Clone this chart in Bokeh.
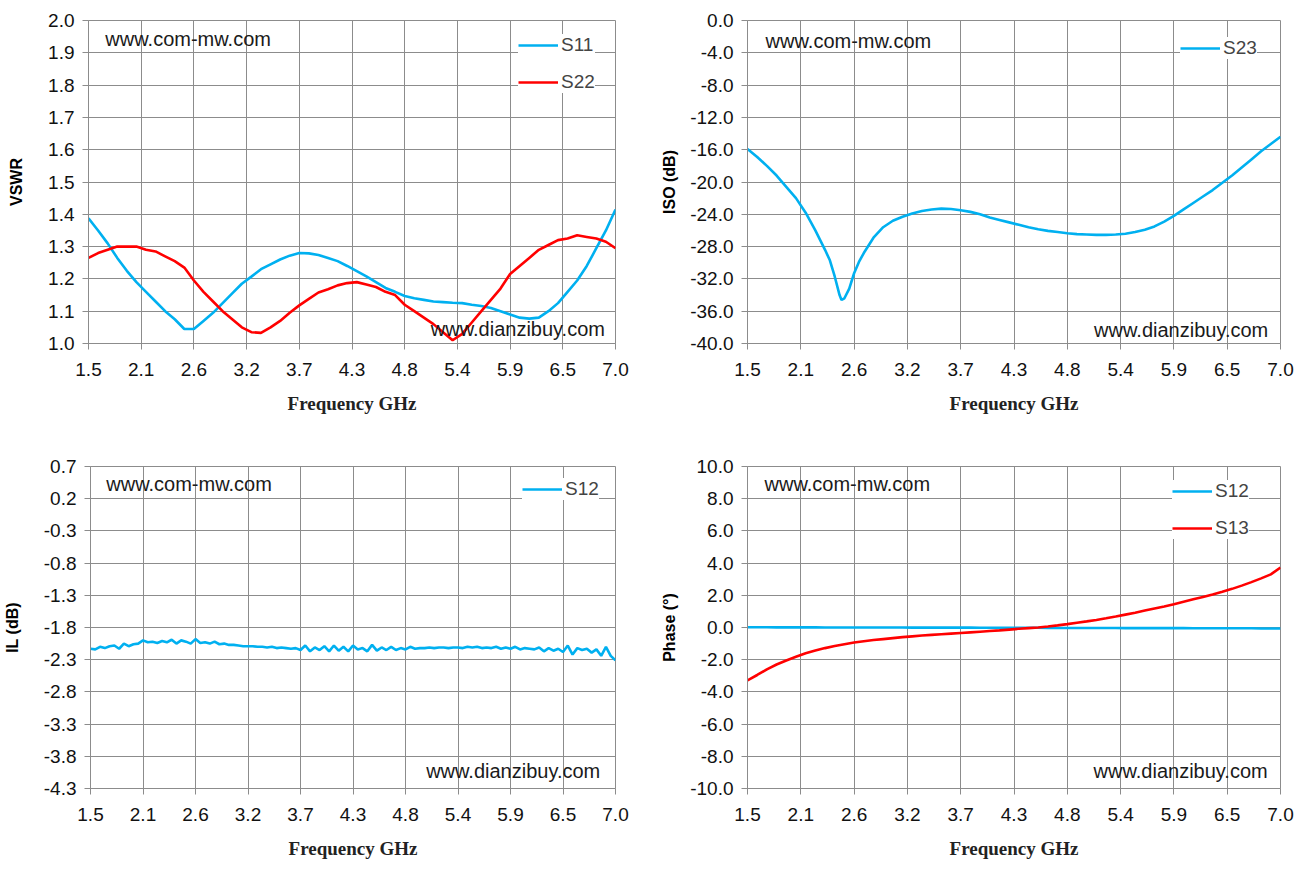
from bokeh.plotting import figure
from bokeh.layouts import row, column
from bokeh.models import Range1d, FixedTicker, NumeralTickFormatter, Legend, LegendItem, Label
from bokeh.embed import file_html
from bokeh.resources import INLINE

# ---------------- data ----------------
freq = [1.5, 1.6, 1.7, 1.8, 1.9, 2.0, 2.1, 2.2, 2.3, 2.4, 2.5, 2.6, 2.7, 2.8, 2.9,
        3.0, 3.1, 3.2, 3.3, 3.4, 3.5, 3.6, 3.7, 3.8, 3.9, 4.0, 4.1, 4.2, 4.3, 4.4,
        4.5, 4.6, 4.7, 4.8, 4.9, 5.0, 5.1, 5.2, 5.3, 5.4, 5.5, 5.6, 5.7, 5.8, 5.9,
        6.0, 6.1, 6.2, 6.3, 6.4, 6.5, 6.6, 6.7, 6.8, 6.9, 7.0]

vswr_s11 = [1.388, 1.35, 1.31, 1.265, 1.225, 1.19, 1.16, 1.13, 1.10, 1.075, 1.045, 1.045,
            1.07, 1.095, 1.125, 1.155, 1.185, 1.207, 1.23, 1.245, 1.26, 1.272, 1.28, 1.279,
            1.274, 1.265, 1.255, 1.24, 1.224, 1.208, 1.19, 1.172, 1.16, 1.147, 1.14, 1.135,
            1.13, 1.128, 1.126, 1.125, 1.12, 1.116, 1.11, 1.10, 1.09, 1.08, 1.077, 1.08,
            1.10, 1.125, 1.16, 1.195, 1.24, 1.295, 1.35, 1.415]
vswr_s22 = [1.265, 1.28, 1.29, 1.30, 1.30, 1.30, 1.29, 1.285, 1.27, 1.255, 1.235, 1.195,
            1.16, 1.13, 1.10, 1.075, 1.05, 1.035, 1.033, 1.05, 1.07, 1.095, 1.118, 1.138,
            1.158, 1.168, 1.18, 1.187, 1.19, 1.183, 1.175, 1.16, 1.15, 1.12, 1.10, 1.08,
            1.06, 1.035, 1.01, 1.03, 1.065, 1.10, 1.135, 1.17, 1.215, 1.24, 1.265, 1.29,
            1.305, 1.32, 1.325, 1.335, 1.33, 1.325, 1.315, 1.295]

iso_freq = [1.5, 1.6, 1.7, 1.8, 1.9, 2.0, 2.1, 2.2, 2.3, 2.35, 2.4, 2.45, 2.47, 2.5, 2.55,
            2.6, 2.65, 2.7, 2.8, 2.9, 3.0, 3.1, 3.2, 3.3, 3.4, 3.5, 3.6, 3.7, 3.8, 3.9,
            4.0, 4.1, 4.2, 4.3, 4.4, 4.5, 4.6, 4.7, 4.8, 4.9, 5.0, 5.1, 5.2, 5.3, 5.4,
            5.5, 5.6, 5.7, 5.8, 5.9, 6.0, 6.1, 6.2, 6.3, 6.4, 6.5, 6.6, 6.7, 6.8, 6.9, 7.0]
iso_s23 = [-15.9, -16.9, -18.0, -19.2, -20.6, -22.0, -23.8, -26.0, -28.4, -29.7, -31.7,
           -34.0, -34.6, -34.4, -33.2, -31.3, -29.9, -28.8, -26.9, -25.6, -24.8, -24.3,
           -23.9, -23.6, -23.4, -23.3, -23.35, -23.5, -23.7, -24.0, -24.4, -24.7, -25.0,
           -25.3, -25.6, -25.85, -26.05, -26.2, -26.35, -26.45, -26.5, -26.55, -26.55,
           -26.5, -26.4, -26.2, -25.9, -25.5, -24.9, -24.2, -23.4, -22.6, -21.8, -21.0,
           -20.1, -19.2, -18.2, -17.2, -16.2, -15.3, -14.4]

freq_fine = [1.50, 1.55, 1.60, 1.65, 1.70, 1.75, 1.80, 1.85, 1.90, 1.95, 2.00, 2.05,
             2.10, 2.15, 2.20, 2.25, 2.30, 2.35, 2.40, 2.45, 2.50, 2.55, 2.60, 2.65,
             2.70, 2.75, 2.80, 2.85, 2.90, 2.95, 3.00, 3.05, 3.10, 3.15, 3.20, 3.25,
             3.30, 3.35, 3.40, 3.45, 3.50, 3.55, 3.60, 3.65, 3.70, 3.75, 3.80, 3.85,
             3.90, 3.95, 4.00, 4.05, 4.10, 4.15, 4.20, 4.25, 4.30, 4.35, 4.40, 4.45,
             4.50, 4.55, 4.60, 4.65, 4.70, 4.75, 4.80, 4.85, 4.90, 4.95, 5.00, 5.05,
             5.10, 5.15, 5.20, 5.25, 5.30, 5.35, 5.40, 5.45, 5.50, 5.55, 5.60, 5.65,
             5.70, 5.75, 5.80, 5.85, 5.90, 5.95, 6.00, 6.05, 6.10, 6.15, 6.20, 6.25,
             6.30, 6.35, 6.40, 6.45, 6.50, 6.55, 6.60, 6.65, 6.70, 6.75, 6.80, 6.85,
             6.90, 6.95, 7.00]
il_s12 = [-2.13, -2.14, -2.10, -2.12, -2.09, -2.08, -2.13, -2.05, -2.09, -2.06, -2.05, -2.00,
          -2.03, -2.02, -2.04, -2.01, -2.03, -1.99, -2.05, -2.00, -2.02, -2.05, -1.98, -2.04,
          -2.03, -2.05, -2.02, -2.06, -2.05, -2.07, -2.07, -2.08, -2.09, -2.09, -2.09, -2.10,
          -2.10, -2.11, -2.10, -2.12, -2.11, -2.12, -2.13, -2.12, -2.15, -2.08, -2.17, -2.11,
          -2.15, -2.09, -2.17, -2.08, -2.16, -2.10, -2.17, -2.08, -2.14, -2.12, -2.17, -2.07,
          -2.16, -2.11, -2.15, -2.10, -2.15, -2.12, -2.14, -2.10, -2.13, -2.12, -2.12, -2.11,
          -2.12, -2.11, -2.11, -2.12, -2.11, -2.11, -2.12, -2.10, -2.11, -2.10, -2.12, -2.11,
          -2.12, -2.10, -2.13, -2.11, -2.13, -2.10, -2.14, -2.12, -2.13, -2.14, -2.11, -2.17,
          -2.12, -2.16, -2.13, -2.18, -2.08, -2.22, -2.12, -2.15, -2.13, -2.19, -2.14, -2.24,
          -2.10, -2.24, -2.31]

phase_s12 = [0.02, 0.02, 0.02, 0.01, 0.01, 0.01, 0.01, 0.01, 0.0, 0.0, 0.0, 0.0, 0.0, 0.0,
             0.0, 0.0, 0.0, -0.01, -0.01, -0.01, -0.01, -0.01, -0.01, -0.01, -0.02, -0.02,
             -0.02, -0.02, -0.02, -0.02, -0.02, -0.03, -0.03, -0.03, -0.03, -0.03, -0.03,
             -0.03, -0.03, -0.04, -0.04, -0.04, -0.04, -0.04, -0.04, -0.04, -0.05, -0.05,
             -0.05, -0.05, -0.05, -0.05, -0.05, -0.06, -0.06, -0.06]
phase_s13 = [-3.29, -2.95, -2.6, -2.3, -2.05, -1.82, -1.6, -1.43, -1.28, -1.15, -1.04, -0.93,
             -0.85, -0.78, -0.72, -0.66, -0.6, -0.55, -0.5, -0.46, -0.42, -0.38, -0.34, -0.3,
             -0.26, -0.22, -0.18, -0.13, -0.08, -0.04, 0.0, 0.06, 0.13, 0.21, 0.3, 0.38, 0.47,
             0.57, 0.68, 0.8, 0.92, 1.05, 1.18, 1.31, 1.45, 1.6, 1.75, 1.9, 2.05, 2.22, 2.4,
             2.6, 2.82, 3.05, 3.3, 3.72]

x_ticks = [1.5, 2.05, 2.6, 3.15, 3.7, 4.25, 4.8, 5.35, 5.9, 6.45, 7.0]
x_tick_labels = ["1.5", "2.1", "2.6", "3.2", "3.7", "4.3", "4.8", "5.4", "5.9", "6.5", "7.0"]
vswr_ticks = [1.0, 1.1, 1.2, 1.3, 1.4, 1.5, 1.6, 1.7, 1.8, 1.9, 2.0]
iso_ticks = [0.0, -4.0, -8.0, -12.0, -16.0, -20.0, -24.0, -28.0, -32.0, -36.0, -40.0]
il_ticks = [0.7, 0.2, -0.3, -0.8, -1.3, -1.8, -2.3, -2.8, -3.3, -3.8, -4.3]
phase_ticks = [10.0, 8.0, 6.0, 4.0, 2.0, 0.0, -2.0, -4.0, -6.0, -8.0, -10.0]

BLUE = "#00B0F0"
RED = "#FF0000"
GRID = "#8C8C8C"
TICK_FONT = "'Liberation Sans Narrow', 'Liberation Sans', sans-serif"
WM_FONT = "'Liberation Sans', sans-serif"


def make_panel(width, height, borders, yticks, ylabel, ylabel_standoff, series, legend_loc, wm):
    bl, br, bt, bb = borders
    p = figure(width=width, height=height, output_backend="svg", toolbar_location=None,
               x_range=Range1d(1.5, 7.0), y_range=Range1d(min(yticks), max(yticks)),
               min_border_left=bl, min_border_right=br, min_border_top=bt, min_border_bottom=bb)
    p.background_fill_color = "white"
    p.border_fill_color = "white"
    p.outline_line_color = GRID
    p.outline_line_width = 1

    p.xaxis.ticker = FixedTicker(ticks=x_ticks)
    p.xaxis.major_label_overrides = dict(zip(x_ticks, x_tick_labels))
    p.yaxis.ticker = FixedTicker(ticks=yticks)
    p.yaxis.formatter = NumeralTickFormatter(format="0.0")
    p.xgrid.ticker = FixedTicker(ticks=x_ticks)
    p.ygrid.ticker = FixedTicker(ticks=yticks)
    for g in (p.xgrid[0], p.ygrid[0]):
        g.grid_line_color = GRID
        g.grid_line_width = 1
    for ax in (p.xaxis[0], p.yaxis[0]):
        ax.axis_line_color = GRID
        ax.major_tick_line_color = GRID
        ax.minor_tick_line_color = None
        ax.major_tick_in = 0
        ax.major_tick_out = 6
        ax.major_label_text_font = TICK_FONT
        ax.major_label_text_font_size = "19px"
        ax.major_label_text_color = "#111111"
    p.xaxis.major_label_standoff = 13
    p.yaxis.major_label_standoff = 8

    p.xaxis.axis_label = "Frequency GHz"
    p.xaxis.axis_label_text_font = "'Liberation Serif', serif"
    p.xaxis.axis_label_text_font_style = "bold"
    p.xaxis.axis_label_text_font_size = "19px"
    p.xaxis.axis_label_text_color = "#222222"
    p.xaxis.axis_label_standoff = 14

    p.yaxis.axis_label = ylabel
    p.yaxis.axis_label_text_font = "'Liberation Sans', sans-serif"
    p.yaxis.axis_label_text_font_style = "bold"
    p.yaxis.axis_label_text_font_size = "16px"
    p.yaxis.axis_label_text_color = "#000000"
    p.yaxis.axis_label_standoff = ylabel_standoff

    items = []
    for xs, ys, color, name in series:
        r = p.line(xs, ys, line_color=color, line_width=2.6)
        items.append(LegendItem(label=name, renderers=[r]))

    leg = Legend(items=items, location=legend_loc, background_fill_color="white",
                 background_fill_alpha=1.0, border_line_color=None,
                 label_text_font=TICK_FONT, label_text_font_size="19px",
                 glyph_width=40, glyph_height=20, label_height=20, label_standoff=3,
                 spacing=15, padding=10, margin=0)
    p.add_layout(leg)

    y0, y1 = min(yticks), max(yticks)
    span = y1 - y0
    (fx1, fy1), (fx2, fy2) = wm
    p.add_layout(Label(x=1.5 + fx1 * 5.5, y=y0 + fy1 * span, text="www.com-mw.com",
                       text_font=WM_FONT, text_font_size="20px", text_color="#1a1a1a",
                       text_baseline="middle", text_align="left"))
    p.add_layout(Label(x=1.5 + fx2 * 5.5, y=y0 + fy2 * span, text="www.dianzibuy.com",
                       text_font=WM_FONT, text_font_size="20px", text_color="#1a1a1a",
                       text_baseline="middle", text_align="right"))
    return p


p1 = make_panel(658, 438, (88, 43, 20, 95), vswr_ticks, "VSWR", 20,
                [(freq, vswr_s11, BLUE, "S11"), (freq, vswr_s22, RED, "S22")],
                (430, 250), ((0.032, 0.944), (0.98, 0.046)))
p2 = make_panel(641, 438, (89, 19, 20, 92), iso_ticks, "ISO (dB)", 9,
                [(iso_freq, iso_s23, BLUE, "S23")],
                (433, 284), ((0.034, 0.936), (0.977, 0.043)))
p3 = make_panel(658, 430, (88, 43, 28, 80), il_ticks, "IL (dB)", 20,
                [(freq_fine, il_s12, BLUE, "S12")],
                (432, 288), ((0.03, 0.947), (0.971, 0.053)))
p4 = make_panel(641, 430, (89, 19, 28, 80), phase_ticks, "Phase (°)", 9,
                [(freq, phase_s12, BLUE, "S12"), (freq, phase_s13, RED, "S13")],
                (425, 249), ((0.032, 0.947), (0.976, 0.053)))

layout = column(row(p1, p2), row(p3, p4))
open("out.html", "w").write(file_html(layout, INLINE))
